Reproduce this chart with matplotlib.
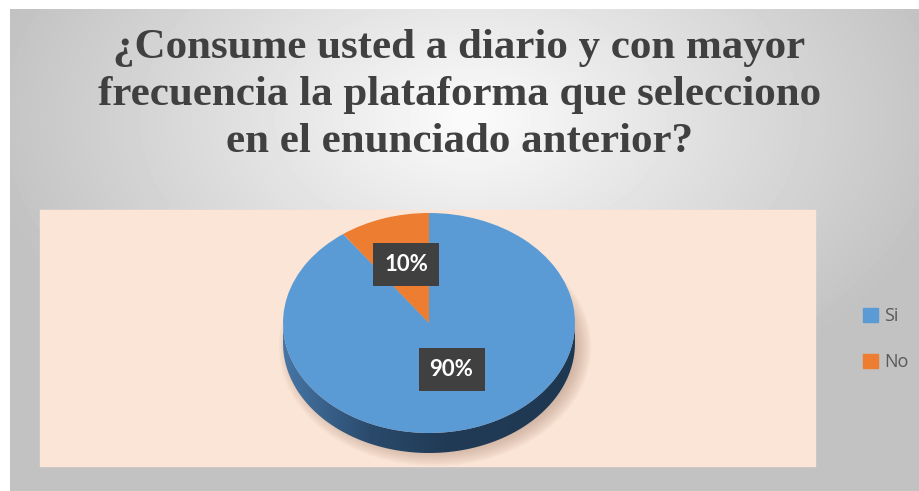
import numpy as np
import matplotlib.pyplot as plt
from matplotlib.patches import Rectangle, Ellipse, Polygon
from matplotlib.transforms import Affine2D
from matplotlib.colors import LinearSegmentedColormap

# datos
categorias = ['Si', 'No']
porcentajes = [90, 10]
colores = ['#5B9BD5', '#ED7D31']
titulo = ('¿Consume usted a diario y con mayor\n'
          'frecuencia la plataforma que selecciono\n'
          'en el enunciado anterior?')

W, H = 919, 491
fig = plt.figure(figsize=(W / 100, H / 100), dpi=100, facecolor='white')

# fondo gris con degradado radial
bg = fig.add_axes([0, 0, 1, 1])
bg.set_xlim(0, W)
bg.set_ylim(0, H)
bg.axis('off')
yy, xx = np.mgrid[0:H - 9, 0:W - 10]
d = np.sqrt(((xx - 460) / 540) ** 2 + ((yy - 110) / 340) ** 2)
g = np.clip(0.985 - 0.25 * d, 0.76, 0.98)
bg.imshow(g, cmap='gray', vmin=0, vmax=1, extent=[10, W, 0, H - 9],
          aspect='auto', origin='upper', zorder=0)

# area de trazado
bg.add_patch(Rectangle((40, H - 466), 775, 256, color='#FBE5D6', zorder=1))

# geometria del pastel (pixeles, y hacia arriba)
cx, cy = 429, H - 323
rx, ry, prof = 146, 110, 20
k = ry / rx
aplastar = Affine2D().translate(-cx, -cy).scale(1, k).translate(cx, cy) + bg.transData

# sombra
for i in range(10):
    bg.add_patch(Ellipse((cx + 6, cy - prof - 4), 2 * (rx + 10 - i * 2), 2 * (ry + 9 - i * 2),
                         color='#b0907c', alpha=0.08, lw=0, zorder=2))

# lateral del pastel con degradado
t = np.linspace(np.pi, 2 * np.pi, 200)
arriba = np.column_stack([cx + rx * np.cos(t), cy + ry * np.sin(t)])
abajo = np.column_stack([cx + rx * np.cos(t[::-1]), cy - prof + ry * np.sin(t[::-1])])
lado = Polygon(np.vstack([arriba, abajo]), closed=True, fc='none', ec='none',
               transform=bg.transData, zorder=3)
bg.add_patch(lado)
cmap_lado = LinearSegmentedColormap.from_list(
    'lado', [(0, '#4676a6'), (0.3, '#2a4a6c'), (0.55, '#213b56'), (1, '#1f3852')])
grad = np.linspace(0, 1, 256).reshape(1, -1)
im = bg.imshow(grad, cmap=cmap_lado, extent=[cx - rx, cx + rx, cy - prof - ry - 2, cy],
               aspect='auto', zorder=3)
im.set_clip_path(lado)

# pastel
wedges, textos, pcts = bg.pie(porcentajes, colors=colores, startangle=90, counterclock=False,
                              center=(cx, cy), radius=rx, autopct='%1.0f%%', pctdistance=0.5,
                              labels=None, wedgeprops=dict(lw=0))
for w in wedges:
    w.set_transform(aplastar)
    w.set_zorder(4)
for p in pcts:
    p.set_transform(aplastar + Affine2D().translate(0, 6))
    p.set_zorder(6)
    p.set_color('white')
    p.set_fontsize(16)
    p.set_fontweight('bold')
    p.set_family(['Lato', 'DejaVu Sans'])
    p.set_bbox(dict(boxstyle='square,pad=0.5', fc='#404040', ec='none'))

bg.set_xlim(0, W)
bg.set_ylim(0, H)
bg.set_aspect('auto')
bg.axis('off')

# titulo
fig.text(0.5, (H - 95) / H, titulo, ha='center', va='center', fontsize=31,
         fontweight='bold', family='Liberation Serif', color='#404040', linespacing=1.3)

# leyenda
handles = [Rectangle((0, 0), 1, 1, color=c) for c in colores]
fig.legend(handles, categorias, loc='center left', bbox_to_anchor=(847 / W, 1 - 339 / H),
           frameon=False, handlelength=0.8, handleheight=0.8, handletextpad=0.35,
           labelspacing=1.55, prop=dict(family='Open Sans', size=13), labelcolor='#595959')

fig.savefig('out.png', dpi=100, facecolor='white')
